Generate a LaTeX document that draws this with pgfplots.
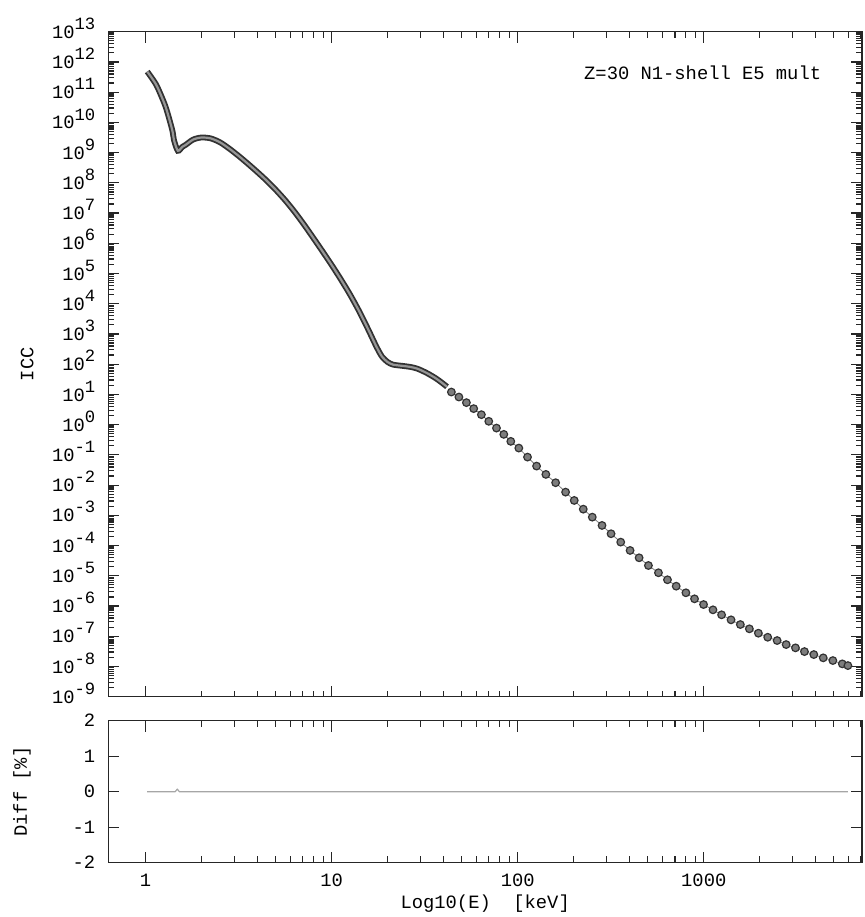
\documentclass[border=0pt]{standalone}
\usepackage{pgfplots}
\usepackage{pgfplotstable}
\pgfplotsset{compat=1.18}
\usepackage{fontspec}
\setmainfont{Liberation Mono}

\definecolor{tubedark}{RGB}{50,50,50}
\definecolor{tubelight}{RGB}{150,150,150}
\definecolor{dotfill}{RGB}{125,125,125}

\newcommand{\tp}[1]{10\raisebox{0.9ex}{\fontsize{8.6}{9}\selectfont#1}}

\pgfplotstableread{
E v
1.02 4.8e11
1.09 2.7e11
1.155 1.5e11
1.28 3.3e10
1.39 5.6e9
1.42 2.6e9
1.49 1.15e9
1.575 1.55e9
1.64 1.8e9
1.80 2.7e9
1.995 3.16e9
2.239 2.95e9
2.512 2.19e9
2.818 1.35e9
3.162 7.76e8
3.548 4.27e8
3.981 2.29e8
4.467 1.19e8
5.012 5.82e7
5.623 2.66e7
6.310 1.11e7
7.079 4.27e6
7.943 1.55e6
8.913 5.50e5
10.0 1.91e5
11.22 6.31e4
12.59 1.95e4
14.13 5.31e3
15.85 1.27e3
17.38 3.85e2
18.62 1.80e2
19.95 1.19e2
21.38 96.6
23.99 88.1
26.30 81.8
28.84 71.3
32.36 51.6
36.31 34.1
39.81 22.5
41.69 17.9
}\solidtab

\pgfplotstableread{
E v
44.0 12.0
48.3 8.20
53.0 5.35
58.0 3.39
63.8 2.14
69.9 1.29
76.9 0.771
84.2 0.477
91.8 0.280
101.4 0.168
112.9 0.0845
126.3 0.0426
141.7 0.0226
159.9 0.0120
180.9 0.00586
201.3 0.00311
225.1 0.00160
251.7 8.71e-4
283.9 4.63e-4
317.5 2.46e-4
357.9 1.30e-4
401.8 6.89e-5
449.3 3.94e-5
504.2 2.19e-5
570.9 1.26e-5
638.3 7.38e-6
711.1 4.53e-6
801.8 2.74e-6
892.1 1.73e-6
997.5 1.12e-6
1121 7.48e-7
1247 5.12e-7
1402 3.49e-7
1573 2.44e-7
1759 1.76e-7
1967 1.26e-7
2207 9.27e-8
2480 7.21e-8
2773 5.31e-8
3112 4.13e-8
3479 3.11e-8
3905 2.48e-8
4387 1.93e-8
4943 1.57e-8
5555 1.22e-8
5955 1.07e-8
}\dottab

\begin{document}
\begin{tikzpicture}
\begin{axis}[at={(0,0)}, anchor=south west,
  scale only axis, width=376.9pt, height=332.5pt,
  xmode=log, xmin=0.63, xmax=7100,
  ymode=log, ymin=1e-9, ymax=1e13,
  axis line style={line width=0.7pt, black!85},
  major tick length=5.5pt, minor tick length=3pt,
  tick align=inside,
  tick style={black!85, line width=0.6pt},
  tick label style={font=\fontsize{9.4}{11}\selectfont},
  ylabel style={font=\fontsize{9.4}{11}\selectfont, at={(axis description cs:-0.1077,0.5)}, anchor=center},
  yticklabel style={anchor=base east, xshift=-3pt, yshift=-3.3pt},
  xtick={1,10,100,1000},
  minor xtick={2,3,4,5,6,7,8,9,20,30,40,50,60,70,80,90,200,300,400,500,600,700,800,900,2000,3000,4000,5000,6000,7000},
  ytick={1e-9,1e-8,1e-7,1e-6,1e-5,1e-4,1e-3,1e-2,1e-1,1,1e1,1e2,1e3,1e4,1e5,1e6,1e7,1e8,1e9,1e10,1e11,1e12,1e13},
  minor ytick={
    2e-9,3e-9,4e-9,5e-9,6e-9,7e-9,8e-9,9e-9,
    2e-8,3e-8,4e-8,5e-8,6e-8,7e-8,8e-8,9e-8,
    2e-7,3e-7,4e-7,5e-7,6e-7,7e-7,8e-7,9e-7,
    2e-6,3e-6,4e-6,5e-6,6e-6,7e-6,8e-6,9e-6,
    2e-5,3e-5,4e-5,5e-5,6e-5,7e-5,8e-5,9e-5,
    2e-4,3e-4,4e-4,5e-4,6e-4,7e-4,8e-4,9e-4,
    2e-3,3e-3,4e-3,5e-3,6e-3,7e-3,8e-3,9e-3,
    2e-2,3e-2,4e-2,5e-2,6e-2,7e-2,8e-2,9e-2,
    2e-1,3e-1,4e-1,5e-1,6e-1,7e-1,8e-1,9e-1,
    2,3,4,5,6,7,8,9,
    2e1,3e1,4e1,5e1,6e1,7e1,8e1,9e1,
    2e2,3e2,4e2,5e2,6e2,7e2,8e2,9e2,
    2e3,3e3,4e3,5e3,6e3,7e3,8e3,9e3,
    2e4,3e4,4e4,5e4,6e4,7e4,8e4,9e4,
    2e5,3e5,4e5,5e5,6e5,7e5,8e5,9e5,
    2e6,3e6,4e6,5e6,6e6,7e6,8e6,9e6,
    2e7,3e7,4e7,5e7,6e7,7e7,8e7,9e7,
    2e8,3e8,4e8,5e8,6e8,7e8,8e8,9e8,
    2e9,3e9,4e9,5e9,6e9,7e9,8e9,9e9,
    2e10,3e10,4e10,5e10,6e10,7e10,8e10,9e10,
    2e11,3e11,4e11,5e11,6e11,7e11,8e11,9e11,
    2e12,3e12,4e12,5e12,6e12,7e12,8e12,9e12},
  yticklabels={\tp{-9},\tp{-8},\tp{-7},\tp{-6},\tp{-5},\tp{-4},\tp{-3},\tp{-2},\tp{-1},\tp{0},\tp{1},\tp{2},\tp{3},\tp{4},\tp{5},\tp{6},\tp{7},\tp{8},\tp{9},\tp{10},\tp{11},\tp{12},\tp{13}},
  xticklabels={},
  ylabel={ICC},
]
\addplot[tubedark, line width=2.9pt, smooth, tension=0.45] table[x=E, y=v] {\solidtab};
\addplot[tubelight, line width=1.1pt, smooth, tension=0.45] table[x=E, y=v] {\solidtab};
\addplot[gray, line width=0.4pt, mark=*, mark size=1.9pt,
  mark options={fill=dotfill, draw=tubedark, line width=0.6pt}] table[x=E, y=v] {\dottab};
\node[anchor=east, font=\fontsize{9.4}{11}\selectfont] at (rel axis cs:0.955,0.9375) {Z=30 N1-shell E5 mult};
\end{axis}

\begin{axis}[at={(0,-83pt)}, anchor=south west,
  scale only axis, width=376.9pt, height=71pt,
  xmode=log, xmin=0.63, xmax=7100,
  ymin=-2, ymax=2,
  axis line style={line width=0.7pt, black!85},
  major tick length=5.5pt, minor tick length=3.2pt,
  tick align=inside,
  tick style={black!85, line width=0.6pt},
  tick label style={font=\fontsize{9.4}{11}\selectfont},
  yticklabel style={xshift=-3pt},
  xticklabel style={yshift=-2pt},
  xtick={1,10,100,1000},
  xticklabels={1,10,100,1000},
  minor xtick={2,3,4,5,6,7,8,9,20,30,40,50,60,70,80,90,200,300,400,500,600,700,800,900,2000,3000,4000,5000,6000,7000},
  ytick={-2,-1,0,1,2},
  yticklabels={-2,-1,0,1,2},
  xlabel={Log10(E)\ \ [keV]},
  xlabel style={font=\fontsize{9.4}{11}\selectfont, at={(axis description cs:0.5,0)}, yshift=-20.6pt, anchor=center},
  ylabel={Diff [\%]},
  ylabel style={font=\fontsize{9.4}{11}\selectfont, at={(axis description cs:-0.1145,0.5)}, anchor=center},
]
\addplot[gray!70, line width=0.6pt] coordinates {(1.02,0) (1.44,0) (1.48,0.07) (1.52,0) (5955,0)};
\end{axis}

\pgfresetboundingbox
\path[use as bounding box] (-54.15pt,-110.15pt) rectangle (377.85pt,348.35pt);
\end{tikzpicture}
\end{document}
